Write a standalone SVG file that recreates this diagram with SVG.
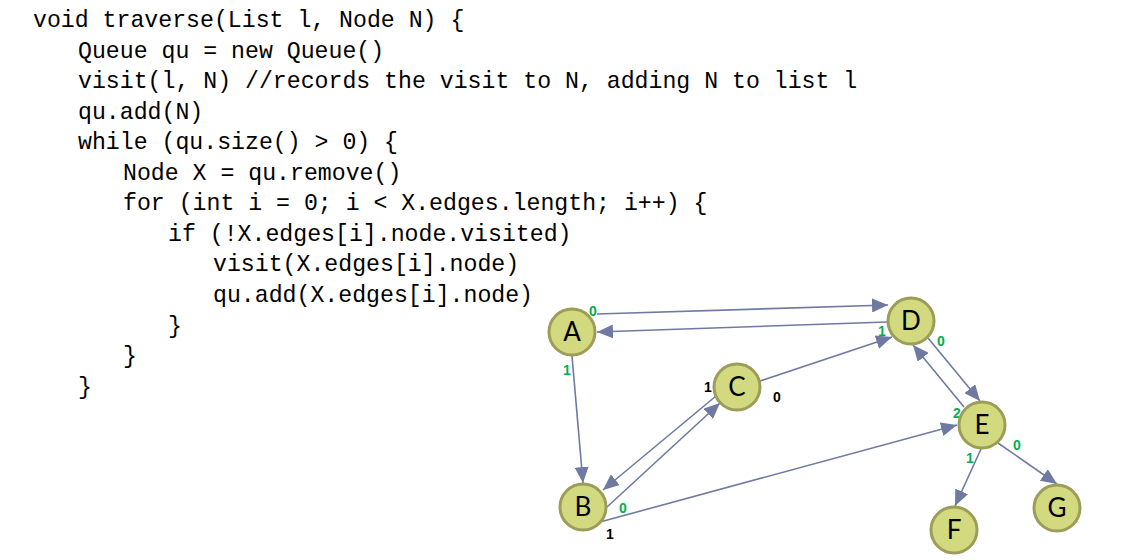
<svg xmlns="http://www.w3.org/2000/svg" width="1138" height="560" viewBox="0 0 1138 560">
<style>
.code{font-family:"Liberation Mono","DejaVu Sans Mono",monospace;font-size:23.2px;fill:#000}
.node circle{fill:#d3d97e;stroke:#9b9d58;stroke-width:3}
.node text{font-family:Lato,"Open Sans","Liberation Sans",sans-serif;font-size:26px;fill:#000;text-anchor:middle}
.edge{stroke:#6f7aa2;stroke-width:1.6;fill:none}
.arr{marker-end:url(#ah)}
.lbl{font-family:"Liberation Sans",Arial,sans-serif;font-size:14px;font-weight:bold;text-anchor:middle}
.g{fill:#00b050}
.k{fill:#000}
</style>
<defs>
<marker id="ah" markerUnits="userSpaceOnUse" markerWidth="16" markerHeight="14" viewBox="0 0 16 14" refX="16" refY="7" orient="auto">
<path d="M0,0 L16,7 L0,14 Z" fill="#6f7aa2"/>
</marker>
</defs>
<rect width="1138" height="560" fill="#fff"/>
<g id="code">
<text class="code" x="33" y="27">void traverse(List l, Node N) {</text>
<text class="code" x="78" y="58">Queue qu = new Queue()</text>
<text class="code" x="78" y="88">visit(l, N) //records the visit to N, adding N to list l</text>
<text class="code" x="78" y="119">qu.add(N)</text>
<text class="code" x="78" y="149">while (qu.size() &gt; 0) {</text>
<text class="code" x="123" y="180">Node X = qu.remove()</text>
<text class="code" x="123" y="210">for (int i = 0; i &lt; X.edges.length; i++) {</text>
<text class="code" x="168" y="241">if (!X.edges[i].node.visited)</text>
<text class="code" x="213" y="271">visit(X.edges[i].node)</text>
<text class="code" x="213" y="302">qu.add(X.edges[i].node)</text>
<text class="code" x="168" y="333">}</text>
<text class="code" x="123" y="363">}</text>
<text class="code" x="78" y="394">}</text>
</g>
<g id="connectors">
<line class="edge arr" x1="597" y1="314" x2="888" y2="305"/>
<line class="edge arr" x1="887" y1="322" x2="597" y2="332"/>
<line class="edge arr" x1="572" y1="356" x2="583" y2="483"/>
<line class="edge arr" x1="716" y1="396" x2="603" y2="490"/>
<line class="edge arr" x1="607" y1="507" x2="720" y2="403"/>
<line class="edge arr" x1="760" y1="381" x2="892" y2="337"/>
<line class="edge arr" x1="928" y1="338" x2="980" y2="401"/>
<line class="edge arr" x1="964" y1="407" x2="913" y2="345"/>
<line class="edge arr" x1="600" y1="522" x2="957" y2="425"/>
<line class="edge arr" x1="981" y1="449" x2="955" y2="506"/>
<line class="edge arr" x1="998" y1="443" x2="1057" y2="484"/>
</g>
<g id="labels">
<text class="lbl g" x="593" y="316">0</text>
<text class="lbl g" x="567" y="375">1</text>
<text class="lbl k" x="708" y="392">1</text>
<text class="lbl k" x="777" y="402">0</text>
<text class="lbl g" x="882" y="336">1</text>
<text class="lbl g" x="941" y="346">0</text>
<text class="lbl g" x="957" y="418">2</text>
<text class="lbl g" x="623" y="513">0</text>
<text class="lbl k" x="610" y="539">1</text>
<text class="lbl g" x="970" y="463">1</text>
<text class="lbl g" x="1017" y="450">0</text>
</g>
<g id="node-A" class="node"><circle cx="572" cy="332" r="23"/><text x="572" y="341">A</text></g>
<g id="node-B" class="node"><circle cx="583" cy="507" r="23"/><text x="583" y="516">B</text></g>
<g id="node-C" class="node"><circle cx="737" cy="387" r="23"/><text x="737" y="396">C</text></g>
<g id="node-D" class="node"><circle cx="911" cy="321" r="23"/><text x="911" y="330">D</text></g>
<g id="node-E" class="node"><circle cx="982" cy="425" r="23"/><text x="982" y="434">E</text></g>
<g id="node-F" class="node"><circle cx="954" cy="530" r="23"/><text x="954" y="539">F</text></g>
<g id="node-G" class="node"><circle cx="1057" cy="508" r="23"/><text x="1057" y="517">G</text></g>
</svg>
